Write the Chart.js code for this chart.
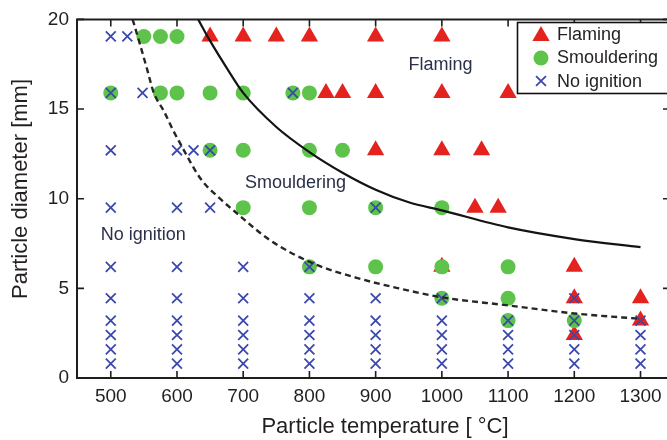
<!DOCTYPE html>
<html>
<head>
<meta charset="utf-8">
<title>Ignition regimes</title>
<script src="https://cdn.jsdelivr.net/npm/chart.js@4.4.1/dist/chart.umd.min.js"></script>
<style>
    html, body { margin: 0; padding: 0; background: #fff; overflow: hidden; }
    #ignition-map { display: block; }
</style>
</head>
<body>
<canvas id="ignition-map" width="667" height="440"></canvas>
<script>
/* Ignition map: particle temperature vs diameter */

// axis ticks
var tempTicks = [500, 600, 700, 800, 900, 1000, 1100, 1200, 1300];
var diamTicks = [0, 5, 10, 15, 20];

// outcomes, [temperature °C, diameter mm]
var flaming = [
    [650, 19.05], [700, 19.05], [750, 19.05], [800, 19.05], [900, 19.05], [1000, 19.05],
    [825, 15.9], [850, 15.9], [900, 15.9], [1000, 15.9], [1100, 15.9],
    [900, 12.7], [1000, 12.7], [1060, 12.7],
    [1050, 9.5], [1085, 9.5],
    [1000, 6.2], [1200, 6.2],
    [1200, 4.45], [1300, 4.45],
    [1300, 3.2],
    [1200, 2.4]
];

var smouldering = [
    [550, 19.05], [575, 19.05], [600, 19.05],
    [500, 15.9], [575, 15.9], [600, 15.9], [650, 15.9], [700, 15.9], [775, 15.9], [800, 15.9],
    [650, 12.7], [700, 12.7], [800, 12.7], [850, 12.7],
    [700, 9.5], [800, 9.5], [900, 9.5], [1000, 9.5],
    [800, 6.2], [900, 6.2], [1000, 6.2], [1100, 6.2],
    [1000, 4.45], [1100, 4.45],
    [1100, 3.2], [1200, 3.2]
];

var noIgnition = [
    [500, 19.05], [525, 19.05],
    [500, 15.9], [548, 15.9], [775, 15.9],
    [500, 12.7], [600, 12.7], [625, 12.7], [650, 12.7],
    [500, 9.5], [600, 9.5], [650, 9.5], [900, 9.5],
    [500, 6.2], [600, 6.2], [700, 6.2], [800, 6.2],
    [500, 4.45], [600, 4.45], [700, 4.45], [800, 4.45], [900, 4.45], [1000, 4.45], [1200, 4.45],
    [500, 3.2], [600, 3.2], [700, 3.2], [800, 3.2], [900, 3.2], [1000, 3.2], [1100, 3.2], [1200, 3.2], [1300, 3.2],
    [500, 2.4], [600, 2.4], [700, 2.4], [800, 2.4], [900, 2.4], [1000, 2.4], [1100, 2.4], [1200, 2.4], [1300, 2.4],
    [500, 1.6], [600, 1.6], [700, 1.6], [800, 1.6], [900, 1.6], [1000, 1.6], [1100, 1.6], [1200, 1.6], [1300, 1.6],
    [500, 0.8], [600, 0.8], [700, 0.8], [800, 0.8], [900, 0.8], [1000, 0.8], [1100, 0.8], [1200, 0.8], [1300, 0.8]
];

// boundary curves
var flamingLimit = [
    [632, 20], [650, 18.8], [675, 17.3], [700, 15.9], [750, 14.0], [800, 12.6],
    [850, 11.45], [900, 10.5], [950, 9.8], [1000, 9.35], [1100, 8.4], [1200, 7.75], [1300, 7.3]
];

var smoulderingLimit = [
    [533, 20], [545, 18.5], [555, 17.2], [565, 15.9], [580, 14.9], [593, 13.9], [606, 13.0],
    [636, 11.1], [665, 10.0], [690, 9.2], [740, 7.7], [805, 6.4], [870, 5.6], [935, 5.0],
    [1000, 4.5], [1100, 4.05], [1200, 3.6], [1300, 3.3]
];

var RED   = '#e4231f';
var GREEN = '#5dc34a';
var BLUE  = '#3b49ad';
var INK   = '#231f20';
var FONT  = '"Liberation Sans", Arial, Helvetica, sans-serif';

function toXY(list) {
    return list.map(function (p) { return { x: p[0], y: p[1] }; });
}

// small marker helper for the legend
function marker(ctx, kind, x, y, r) {
    ctx.save();
    ctx.beginPath();
    if (kind === 'triangle') {
        ctx.fillStyle = RED;
        ctx.moveTo(x, y - r);
        ctx.lineTo(x + r * 0.866, y + r / 2);
        ctx.lineTo(x - r * 0.866, y + r / 2);
        ctx.closePath();
        ctx.fill();
    } else if (kind === 'circle') {
        ctx.fillStyle = GREEN;
        ctx.arc(x, y, r, 0, Math.PI * 2);
        ctx.fill();
    } else {
        var d = r * 0.707;
        ctx.strokeStyle = BLUE;
        ctx.lineWidth = 1.8;
        ctx.moveTo(x - d, y - d); ctx.lineTo(x + d, y + d);
        ctx.moveTo(x - d, y + d); ctx.lineTo(x + d, y - d);
        ctx.stroke();
    }
    ctx.restore();
}

// frame, inward ticks, titles, region names and legend
var framePlugin = {
    id: 'frame',
    afterDraw: function (chart) {
        var ctx = chart.ctx;
        var a = chart.chartArea;
        var xs = chart.scales.x, ys = chart.scales.y;

        ctx.save();
        ctx.strokeStyle = '#1e1e1e';
        ctx.lineWidth = 2;
        ctx.beginPath();
        // right edge of the box falls just past the canvas
        ctx.moveTo(a.right + 2, a.top);
        ctx.lineTo(a.left, a.top);
        ctx.lineTo(a.left, a.bottom);
        ctx.lineTo(a.right + 2, a.bottom);
        ctx.stroke();

        ctx.lineWidth = 1.6;
        ctx.beginPath();
        tempTicks.forEach(function (v) {
            var px = xs.getPixelForValue(v);
            ctx.moveTo(px, a.bottom); ctx.lineTo(px, a.bottom - 7);
            ctx.moveTo(px, a.top);    ctx.lineTo(px, a.top + 7);
        });
        diamTicks.forEach(function (v) {
            var py = ys.getPixelForValue(v);
            ctx.moveTo(a.left, py);  ctx.lineTo(a.left + 7, py);
            ctx.moveTo(a.right, py); ctx.lineTo(a.right - 4, py);
        });
        ctx.stroke();

        // axis titles
        ctx.fillStyle = INK;
        ctx.font = '22px ' + FONT;
        ctx.textAlign = 'center';
        ctx.textBaseline = 'middle';
        ctx.fillText('Particle temperature [ \u00b0C]', 385, 427);
        ctx.save();
        ctx.translate(21, 189);
        ctx.rotate(-Math.PI / 2);
        ctx.fillText('Particle diameter [mm]', 0, 0);
        ctx.restore();

        // regime names
        ctx.font = '18px ' + FONT;
        ctx.fillStyle = '#2a2f4a';
        ctx.fillText('Flaming', xs.getPixelForValue(998), ys.getPixelForValue(17.45));
        ctx.fillText('Smouldering', xs.getPixelForValue(779), ys.getPixelForValue(10.9));
        ctx.fillText('No ignition', xs.getPixelForValue(549), ys.getPixelForValue(8.0));

        // legend box
        ctx.fillStyle = '#fff';
        ctx.fillRect(517, 22, 160, 71);
        ctx.strokeStyle = '#111';
        ctx.lineWidth = 1.6;
        ctx.strokeRect(517.5, 22.5, 160, 71);

        marker(ctx, 'triangle', 541, 36, 10);
        marker(ctx, 'circle', 541, 58, 7.5);
        marker(ctx, 'cross', 541, 81, 7);

        ctx.fillStyle = INK;
        ctx.font = '18px ' + FONT;
        ctx.textAlign = 'left';
        ctx.fillText('Flaming', 557, 35);
        ctx.fillText('Smouldering', 557, 58);
        ctx.fillText('No ignition', 557, 82);
        ctx.restore();
    }
};

new Chart(document.getElementById('ignition-map'), {
    type: 'scatter',
    data: {
        datasets: [
            {
                label: 'flaming limit',
                data: toXY(flamingLimit),
                showLine: true,
                borderColor: '#141414',
                borderWidth: 2.2,
                pointRadius: 0,
                cubicInterpolationMode: 'monotone',
                order: 0
            },
            {
                label: 'smouldering limit',
                data: toXY(smoulderingLimit),
                showLine: true,
                borderColor: '#262626',
                borderWidth: 2.4,
                borderDash: [6, 4],
                pointRadius: 0,
                cubicInterpolationMode: 'monotone',
                order: 0
            },
            {
                label: 'No ignition',
                data: toXY(noIgnition),
                pointStyle: 'crossRot',
                pointRadius: 7,
                borderColor: BLUE,
                backgroundColor: BLUE,
                pointBorderWidth: 1.8,
                order: 1
            },
            {
                label: 'Smouldering',
                data: toXY(smouldering),
                pointStyle: 'circle',
                pointRadius: 7.5,
                borderWidth: 0,
                backgroundColor: GREEN,
                borderColor: GREEN,
                order: 2
            },
            {
                label: 'Flaming',
                data: toXY(flaming),
                pointStyle: 'triangle',
                pointRadius: 10,
                borderWidth: 0,
                backgroundColor: RED,
                borderColor: RED,
                order: 3
            }
        ]
    },
    options: {
        responsive: false,
        animation: false,
        devicePixelRatio: 1,
        layout: {
            autoPadding: false,
            padding: { top: 16, right: 0, left: 0, bottom: 0 }
        },
        plugins: {
            legend: { display: false },
            tooltip: { enabled: false }
        },
        scales: {
            x: {
                type: 'linear',
                min: 449,
                max: 1340,
                afterBuildTicks: function (s) {
                    s.ticks = tempTicks.map(function (v) { return { value: v }; });
                },
                afterFit: function (s) {
                    s.height = 62;
                    s.paddingRight = 0;
                },
                grid: { display: false, drawTicks: false },
                border: { display: false },
                ticks: {
                    color: INK,
                    font: { family: FONT, size: 19 },
                    padding: 7,
                    maxRotation: 0,
                    autoSkip: false,
                    callback: function (v) { return String(v); }
                }
            },
            y: {
                type: 'linear',
                min: 0,
                max: 20,
                afterBuildTicks: function (s) {
                    s.ticks = diamTicks.map(function (v) { return { value: v }; });
                },
                afterFit: function (s) { s.width = 77; },
                grid: { display: false, drawTicks: false },
                border: { display: false },
                ticks: {
                    color: INK,
                    font: { family: FONT, size: 19 },
                    padding: 8
                }
            }
        }
    },
    plugins: [framePlugin]
});
</script>
</body>
</html>
